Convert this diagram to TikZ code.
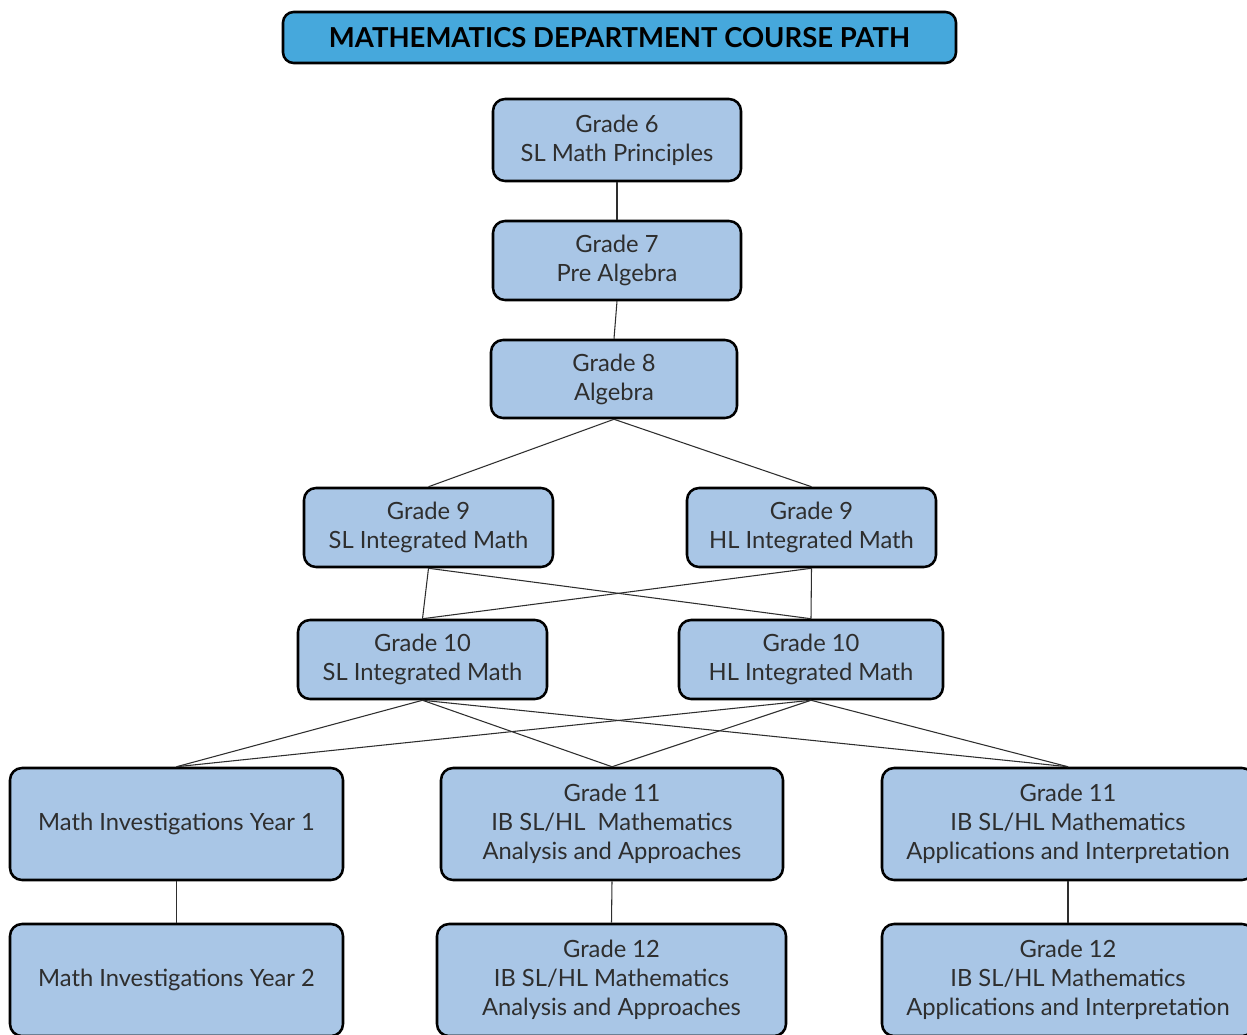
\documentclass[tikz,border=0pt]{standalone}
\usepackage{fontspec}
\setmainfont{Lato}
\usepackage{xcolor}
\definecolor{CourseBlue}{HTML}{A9C6E6}
\definecolor{TitleBlue}{HTML}{46A8DC}
\definecolor{CourseInk}{HTML}{2E2E2E}
\tikzset{
  coursebox/.style 2 args={draw=black, line width=1.9pt, fill=CourseBlue,
    rounded corners=9pt, align=center, text=CourseInk, inner sep=0pt,
    font=\fontsize{17.8}{21.75}\selectfont,
    minimum width=#1*0.75pt, minimum height=#2*0.75pt},
  titlebox/.style={draw=black, line width=1.9pt, fill=TitleBlue,
    rounded corners=8pt, inner sep=0pt, text=black,
    font=\fontsize{20.6}{24}\selectfont\bfseries,
    minimum width=673*0.75pt, minimum height=51*0.75pt},
  pathline/.style={draw=CourseInk, line width=0.8pt}
}
\begin{document}
\begin{tikzpicture}[x=0.75pt,y=-0.75pt]
    \useasboundingbox (0,0) rectangle (1247,1035);
    \clip (0,0) rectangle (1247,1035);
    % title
    \node[titlebox] (title) at (619.5,37.5) {MATHEMATICS DEPARTMENT COURSE PATH};
    % middle school
    \node[coursebox={248}{82}] (g6) at (617,140) {Grade 6\\SL Math Principles};
    \node[coursebox={248}{79}] (g7) at (617,260.5) {Grade 7\\Pre Algebra};
    \node[coursebox={246}{78}] (g8) at (614,379) {Grade 8\\Algebra};
    % grades 9 and 10
    \node[coursebox={249}{79}] (g9sl) at (428.5,527.5) {Grade 9\\SL Integrated Math};
    \node[coursebox={249}{79}] (g9hl) at (811.5,527.5) {Grade 9\\HL Integrated Math};
    \node[coursebox={249}{79}] (g10sl) at (422.5,659.5) {Grade 10\\SL Integrated Math};
    \node[coursebox={264}{79}] (g10hl) at (811,659.5) {Grade 10\\HL Integrated Math};
    % grades 11 and 12
    \node[coursebox={333}{112}] (mi1) at (176.5,824) {Math Investigations Year 1};
    \node[coursebox={342}{112}] (aa11) at (612,824) {Grade 11\\IB SL/HL\ \ Mathematics\\Analysis and Approaches};
    \node[coursebox={372}{112}] (ai11) at (1068,824) {Grade 11\\IB SL/HL Mathematics\\Applications and Interpretation};
    \node[coursebox={333}{112}] (mi2) at (176.5,980) {Math Investigations Year 2};
    \node[coursebox={349}{112}] (aa12) at (611.5,980) {Grade 12\\IB SL/HL Mathematics\\Analysis and Approaches};
    \node[coursebox={372}{112}] (ai12) at (1068,980) {Grade 12\\IB SL/HL Mathematics\\Applications and Interpretation};
    % connectors
    \foreach \from/\to in {g6/g7,g7/g8,g8/g9sl,g8/g9hl,mi1/mi2,aa11/aa12,ai11/ai12} {
      \draw[pathline] (\from.south) -- (\to.north);
    }
    \foreach \from in {g9sl,g9hl} {
      \foreach \to in {g10sl,g10hl}
        \draw[pathline] (\from.south) -- (\to.north);
    }
    \foreach \from in {g10sl,g10hl} {
      \foreach \to in {mi1,aa11,ai11}
        \draw[pathline] (\from.south) -- (\to.north);
    }
\end{tikzpicture}
\end{document}
